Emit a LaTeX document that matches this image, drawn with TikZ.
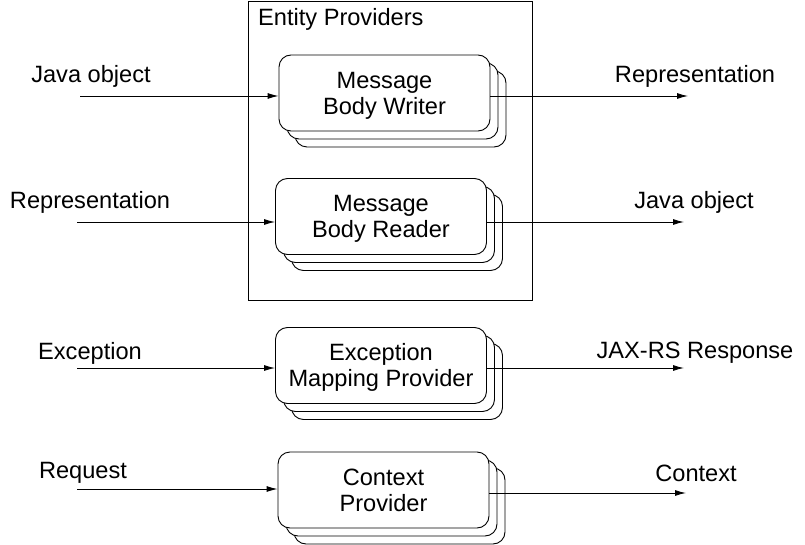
\documentclass[tikz,border=0pt]{standalone}
\usepackage{fontspec}
\setmainfont{Liberation Sans}
\usetikzlibrary{arrows.meta,shadows}
\newcommand{\twolines}[2]{\raisebox{-3pt}[\height][\depth]{\begin{tabular}{@{}c@{}}#1\\#2\end{tabular}}}
\begin{document}
\begin{tikzpicture}[x=1pt,y=-1pt,
  every node/.style={font=\fontsize{23.6}{26}\selectfont},
  provider/.style={draw, line width=0.9pt, rounded corners=12pt, fill=white,
    minimum width=211pt, minimum height=76pt, inner sep=0pt, align=center,
    double copy shadow={shadow xshift=8pt, shadow yshift=-8pt}},
  lbl/.style={inner sep=0pt, anchor=center},
  arr/.style={line width=0.9pt, -{Latex[length=11pt,width=6pt]}}
]
\useasboundingbox (0,0) rectangle (805,545);
% Entity providers frame
\node[draw, line width=0.9pt, minimum width=284pt, minimum height=299pt, inner sep=0pt] (ep) at (390,150.5) {};
\node[lbl, anchor=west] (eplbl) at (258,19) {Entity Providers};
% providers
\node[provider] (w) at (384.5,93) {\twolines{Message}{Body Writer}};
\node[provider] (r) at (381,216.5) {\twolines{Message}{Body Reader}};
\node[provider] (e) at (381,365.5) {\twolines{Exception}{Mapping Provider}};
\node[provider] (c) at (383.5,490) {\twolines{Context}{Provider}};
% free ends
\coordinate (wi) at (80,96);  \coordinate (wo) at (688,96);
\coordinate (ri) at (77,222); \coordinate (ro) at (684,222);
\coordinate (ei) at (77,368); \coordinate (eo) at (684,368);
\coordinate (ci) at (77,489); \coordinate (co) at (686,493);
% arrows
\draw[arr] (wi) -- (wi -| w.west);
\draw[arr] (w.east |- wo) -- (wo);
\draw[arr] (ri) -- (ri -| r.west);
\draw[arr] (r.east |- ro) -- (ro);
\draw[arr] (ei) -- (ei -| e.west);
\draw[arr] (e.east |- eo) -- (eo);
\draw[arr] (ci) -- (ci -| c.west);
\draw[arr] (c.east |- co) -- (co);
% labels
\node[lbl] (l1) at (91,76) {Java object};
\node[lbl] (l2) at (695,76) {Representation};
\node[lbl] (l3) at (90,202) {Representation};
\node[lbl] (l4) at (694,202) {Java object};
\node[lbl] (l5) at (90,353) {Exception};
\node[lbl] (l6) at (695,353) {JAX-RS Response};
\node[lbl] (l7) at (83,473) {Request};
\node[lbl] (l8) at (696,473) {Context};
\end{tikzpicture}
\end{document}
